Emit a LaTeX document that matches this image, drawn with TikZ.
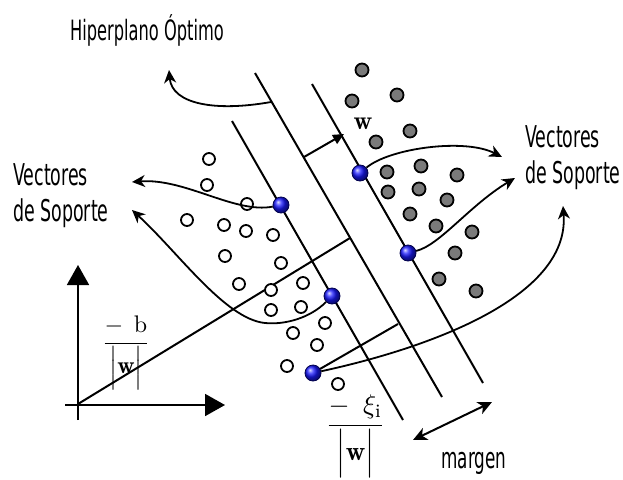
\documentclass[tikz,border=0pt]{standalone}
\usepackage{amsmath}
\usepackage{graphicx}
\usepackage{fontspec}
\usetikzlibrary{arrows.meta}
\newfontfamily\labfont[FakeStretch=0.58]{DejaVu Sans}
\tikzset{
  hyp/.style={line width=2pt},
  curv/.style={line width=1.8pt,-{Stealth[length=13pt,width=12pt,inset=4pt]}},
  opendot/.style={circle,draw,line width=1.8pt,fill=white,minimum size=12pt,inner sep=0pt},
  greydot/.style={circle,draw,line width=1.8pt,fill=black!52,minimum size=13pt,inner sep=0pt},
  sv/.style={circle,draw=blue!30!black,line width=0.8pt,ball color=blue!90!white,minimum size=16pt,inner sep=0pt},
  lab/.style={font=\labfont\fontsize{30}{36}\selectfont,inner sep=0pt},
  axis/.style={line width=1.8pt,-{Triangle[length=20pt,width=22pt]}},
  mathlab/.style={inner sep=0pt},
}
\begin{document}
\begin{tikzpicture}[x=1pt,y=-1pt]
\useasboundingbox (0,0) rectangle (623,479);
% hyperplanes
\coordinate (a1) at (232,121); \coordinate (a2) at (403,420);
\coordinate (b1) at (255,73);  \coordinate (b2) at (442,397);
\coordinate (c1) at (312,84);  \coordinate (c2) at (483,383);
\draw[hyp] (a1) -- (a2);
\draw[hyp] (b1) -- (b2);
\draw[hyp] (c1) -- (c2);
% axes
\coordinate (orig) at (78,404);
\coordinate (ybot) at (78,420);
\coordinate (ytop) at (78,265);
\coordinate (xleft) at (65,405);
\coordinate (xright) at (225,405);
\draw[axis] (ybot) -- (ytop);
\draw[axis] (xleft) -- (xright);
% perpendiculars
\coordinate (bp) at (350,238);
\draw[hyp] (orig) -- (bp);
\coordinate (wst) at (304,157);
\coordinate (wtip) at (344,134);
\draw[hyp,-{Triangle[length=11pt,width=10pt]}] (wst) -- (wtip);
\node[mathlab,font=\fontsize{26}{30}\selectfont] (wlab) at (363,124) {$\mathbf{w}$};
% open circles
\foreach \x/\y [count=\i] in {209/159,207/185,247/204,187/220,224/225,246/231,273/235,225/256,281/263,239/284,271/290,303/283,271/310,301/307,325/323,293/333,317/345,287/366,338/384}
  \node[opendot] (o\i) at (\x,\y) {};
% grey circles
\foreach \x/\y [count=\i] in {362/70,352/101,397/95,410/131,376/142,387/172,421/166,457/175,388/192,419/189,447/200,410/214,436/226,472/232,455/253,439/279,476/291}
  \node[greydot] (g\i) at (\x,\y) {};
% support vectors
\node[sv] (sv1) at (281,205) {};
\node[sv] (sv2) at (332,296) {};
\node[sv] (sv3) at (313,373) {};
\node[sv] (sv4) at (360,173) {};
\node[sv] (sv5) at (408,253) {};
% xi segment
\coordinate (xib) at (398,324);
\draw[hyp] (sv3) -- (xib);
% labels
\node[lab,font=\labfont\fontsize{28}{34}\selectfont,anchor=base] (hlab) at (147,40) {Hiperplano Óptimo};
\node[lab,anchor=base west,align=left] (vl) at (13,221) {Vectores\\de Soporte};
\node[lab,anchor=base west,align=left] (vr) at (525,183) {Vectores\\de Soporte};
\node[lab,font=\labfont\fontsize{29}{34}\selectfont,anchor=base] (mlab) at (474,468) {margen};
% curves
\coordinate (hp) at (271,102);
\coordinate (hptip) at (169,70);
\draw[curv] (hp) .. controls (215,112) and (172,104) .. (hptip);
\coordinate (vltip) at (132,182);
\draw[curv] (sv1) .. controls (235,214) and (185,178) .. (vltip);
\coordinate (sltip) at (132,210);
\coordinate (slm) at (265,323);
\draw[curv] (sv2) .. controls (310,318) and (285,325) .. (slm) .. controls (225,319) and (178,252) .. (sltip);
\coordinate (vrtip) at (502,157);
\draw[curv] (sv4) .. controls (390,148) and (465,138) .. (vrtip);
\coordinate (srtip) at (515,178);
\draw[curv] (sv5) .. controls (440,245) and (470,205) .. (srtip);
\coordinate (uptip) at (563,206);
\draw[curv] (sv3) .. controls (420,350) and (570,300) .. (uptip);
% margin arrow
\coordinate (m1) at (413,440);
\coordinate (m2) at (492,402);
\draw[line width=2pt,{Stealth[length=14pt,width=13pt,inset=4pt]}-{Stealth[length=14pt,width=13pt,inset=4pt]}] (m1) -- (m2);
% fractions
\node[mathlab,anchor=base] (fb) at (126,349) {\scalebox{2.4}{$\dfrac{-\mkern8mu\mathrm{b}}{\Bigl|\mathbf{w}\Bigr|}$}};
\node[mathlab,anchor=base] (fxi) at (355.5,432) {\scalebox{2.7}{$\dfrac{-\mkern9mu\xi_{\mathrm{i}}}{\Bigl|\mathbf{w}\Bigr|}$}};
\end{tikzpicture}
\end{document}
